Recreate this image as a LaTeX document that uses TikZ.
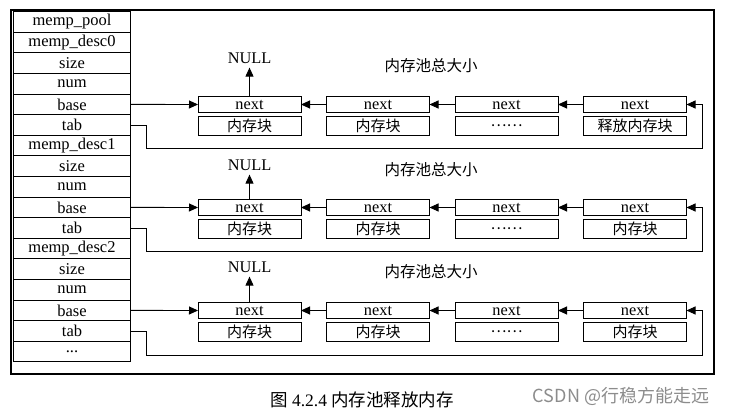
\documentclass[tikz,border=0pt]{standalone}
\usepackage{fontspec}
\setmainfont{Liberation Serif}
\newfontfamily\cjk{Noto Sans CJK SC}
\usetikzlibrary{positioning,arrows.meta}

\tikzset{
  field/.style={draw,line width=0.9pt,minimum width=117.4pt,minimum height=20.6pt,inner sep=0pt,outer sep=0pt,font=\fontsize{16.5}{18}\selectfont},
  nextbox/.style={draw,line width=0.9pt,minimum width=103pt,minimum height=16.5pt,inner sep=0pt,outer sep=0pt,font=\fontsize{16.3}{18}\selectfont},
  blockbox/.style={draw,line width=0.9pt,minimum width=103pt,minimum height=19pt,inner sep=0pt,outer sep=0pt,font=\cjk\fontsize{15}{18}\selectfont},
  nulltxt/.style={inner sep=4pt,font=\fontsize{16.3}{18}\selectfont},
  totaltxt/.style={inner sep=0pt,font=\cjk\fontsize{15.5}{18}\selectfont},
  link/.style={line width=0.9pt,-{Triangle[length=9pt,width=8pt]}}
}

\begin{document}
\begin{tikzpicture}[x=1pt,y=-1pt]
\useasboundingbox (0,0) rectangle (733,414);

\draw[line width=2pt] (10.5,10) rectangle (714,374);

% left column
\node[field] (pool)  at (72,22)    {memp\_pool};
\node[field] (desc0) at (72,42.6)  {memp\_desc0};
\node[field] (size0) at (72,63.2)  {size};
\node[field] (num0)  at (72,83.8)  {num};
\node[field] (base0) at (72,104.4) {base};
\node[field] (tab0)  at (72,125)   {tab};
\node[field] (desc1) at (72,145.6) {memp\_desc1};
\node[field] (size1) at (72,166.2) {size};
\node[field] (num1)  at (72,186.8) {num};
\node[field] (base1) at (72,207.4) {base};
\node[field] (tab1)  at (72,228)   {tab};
\node[field] (desc2) at (72,248.6) {memp\_desc2};
\node[field] (size2) at (72,269.2) {size};
\node[field] (num2)  at (72,289.8) {num};
\node[field] (base2) at (72,310.4) {base};
\node[field] (tab2)  at (72,331)   {tab};
\node[field] (more)  at (72,351.6) {...};

% pool 0
\node[nextbox] (n01) at (249.5,104.5) {next};
\node[nextbox] (n02) at (378,104.5)   {next};
\node[nextbox] (n03) at (506.5,104.5) {next};
\node[nextbox] (n04) at (635,104.5)   {next};
\node[blockbox] (b01) at (249.5,125.5) {内存块};
\node[blockbox] (b02) at (378,125.5)   {内存块};
\node[blockbox] (b03) at (506.5,125.5) {……};
\node[blockbox] (b04) at (635,125.5)   {释放内存块};
\node[nulltxt] (null0) at (249.5,58) {NULL};
\node[totaltxt] (total0) at (431,66) {内存池总大小};

% pool 1
\node[nextbox] (n11) at (249.5,207.5) {next};
\node[nextbox] (n12) at (378,207.5)   {next};
\node[nextbox] (n13) at (506.5,207.5) {next};
\node[nextbox] (n14) at (635,207.5)   {next};
\node[blockbox] (b11) at (249.5,228.5) {内存块};
\node[blockbox] (b12) at (378,228.5)   {内存块};
\node[blockbox] (b13) at (506.5,228.5) {……};
\node[blockbox] (b14) at (635,228.5)   {内存块};
\node[nulltxt] (null1) at (249.5,165) {NULL};
\node[totaltxt] (total1) at (431,170) {内存池总大小};

% pool 2
\node[nextbox] (n21) at (249.5,310.5) {next};
\node[nextbox] (n22) at (378,310.5)   {next};
\node[nextbox] (n23) at (506.5,310.5) {next};
\node[nextbox] (n24) at (635,310.5)   {next};
\node[blockbox] (b21) at (249.5,331.5) {内存块};
\node[blockbox] (b22) at (378,331.5)   {内存块};
\node[blockbox] (b23) at (506.5,331.5) {……};
\node[blockbox] (b24) at (635,331.5)   {内存块};
\node[nulltxt] (null2) at (249.5,267) {NULL};
\node[totaltxt] (total2) at (431,272) {内存池总大小};

\draw[link] (base0.east) -- (n01.west);
\draw[link] (n01.north) -- (null0.south);
\draw[link] (n02.west) -- (n01.east);
\draw[link] (n03.west) -- (n02.east);
\draw[link] (n04.west) -- (n03.east);
\draw[link] (tab0.east) -| ++(16,23) -- ++(556,0) |- (n04.east);

\draw[link] (base1.east) -- (n11.west);
\draw[link] (n11.north) -- (null1.south);
\draw[link] (n12.west) -- (n11.east);
\draw[link] (n13.west) -- (n12.east);
\draw[link] (n14.west) -- (n13.east);
\draw[link] (tab1.east) -| ++(16,23) -- ++(556,0) |- (n14.east);

\draw[link] (base2.east) -- (n21.west);
\draw[link] (n21.north) -- (null2.south);
\draw[link] (n22.west) -- (n21.east);
\draw[link] (n23.west) -- (n22.east);
\draw[link] (n24.west) -- (n23.east);
\draw[link] (tab2.east) -| ++(16,24) -- ++(556,0) |- (n24.east);

% caption
\node[inner sep=0pt,font=\fontsize{17.5}{20}\selectfont] (caption) at (362,400) {{\cjk 图} 4.2.4 {\cjk 内存池释放内存}};
\node[inner sep=0pt,text=black!45,font=\cjk\fontsize{18}{20}\selectfont] (mark) at (621,396) {CSDN @行稳方能走远};

\end{tikzpicture}
\end{document}
